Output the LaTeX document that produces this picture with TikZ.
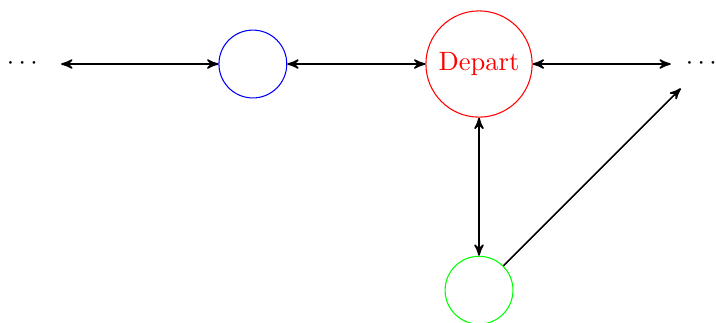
\documentclass[tikz,border=0pt]{standalone}
\usetikzlibrary{arrows}
\tikzset{
  st/.style={circle,draw,minimum size=0.9cm,inner sep=0pt},
  dotsnode/.style={circle,minimum size=0.9cm,inner sep=0pt},
  conn/.style={semithick,>=stealth'}
}
\begin{document}
\begin{tikzpicture}
\useasboundingbox (-6.354,-3.435) rectangle (3.143,0.849);
\node[circle,draw=red,text=red] (dep) at (0,0) {Depart};
\node[st,draw=blue] (b) at (-3,0) {};
\node[st,draw=green] (g) at (0,-3) {};
\node[dotsnode] (l) at (-6,0) {$\cdots$\kern3.2pt};
\node[dotsnode] (r) at (3,0) {$\cdots$\kern3pt};
\draw[conn,<->] (l) -- (b);
\draw[conn,<->] (b) -- (dep);
\draw[conn,<->] (dep) -- (r);
\draw[conn,<->] (dep) -- (g);
\draw[conn,->] (g) -- (r);
\end{tikzpicture}
\end{document}
